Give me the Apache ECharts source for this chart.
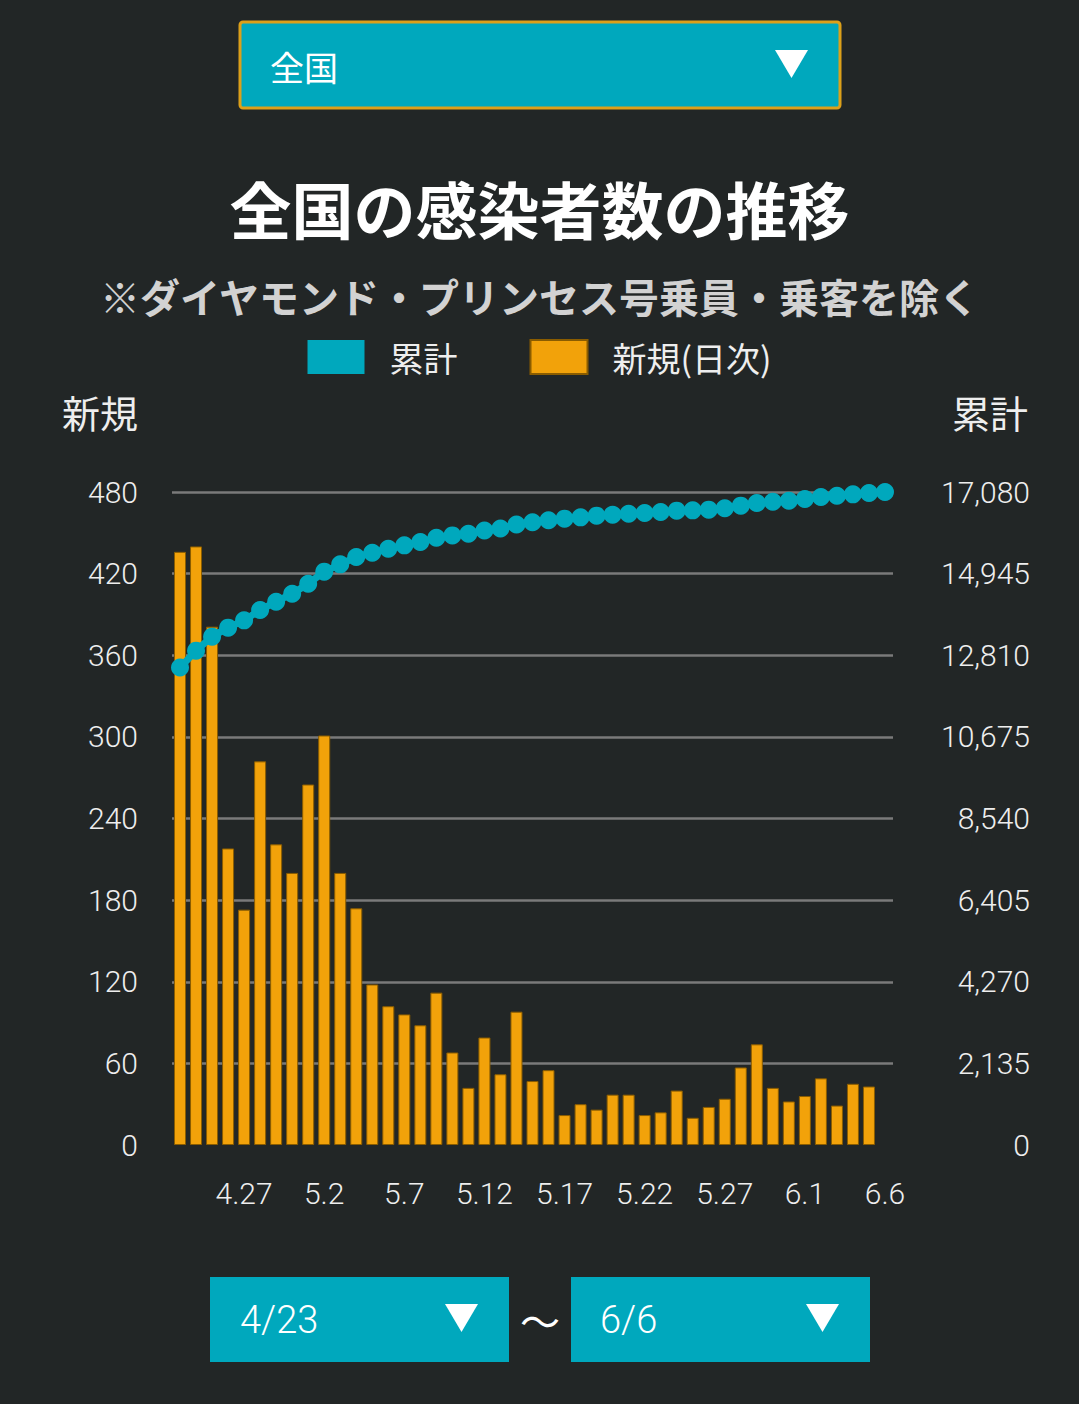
<!DOCTYPE html>
<html>
<head>
<meta charset="utf-8">
<script src="https://cdn.jsdelivr.net/npm/echarts@6/dist/echarts.min.js"></script>
<style>
  html, body { margin: 0; padding: 0; background: #222626; }
  #main { width: 1079px; height: 1404px; }
</style>
</head>
<body>
<div id="main"></div>
<script>
// 日付（4/23〜6/6）
const dates = [
    '4.23', '4.24', '4.25', '4.26', '4.27', '4.28', '4.29', '4.30',
    '5.1', '5.2', '5.3', '5.4', '5.5', '5.6', '5.7', '5.8', '5.9', '5.10',
    '5.11', '5.12', '5.13', '5.14', '5.15', '5.16', '5.17', '5.18', '5.19', '5.20',
    '5.21', '5.22', '5.23', '5.24', '5.25', '5.26', '5.27', '5.28', '5.29', '5.30', '5.31',
    '6.1', '6.2', '6.3', '6.4', '6.5', '6.6'
];
// 新規(日次)
const newCases = [
    436, 440, 381, 218, 173, 282, 221, 200,
    265, 301, 200, 174, 118, 102, 96, 88, 112, 68,
    42, 79, 52, 98, 47, 55, 22, 30, 26, 37,
    37, 22, 24, 40, 20, 28, 34, 57, 74, 42, 32,
    36, 49, 29, 45, 43, null
];
// 累計
const totalCases = [
    12488, 12930, 13297, 13532, 13723, 13993, 14210, 14419,
    14680, 14997, 15188, 15380, 15493, 15597, 15684, 15771, 15884, 15945,
    15988, 16075, 16127, 16232, 16290, 16339, 16383, 16417, 16461, 16487,
    16513, 16531, 16557, 16592, 16600, 16618, 16653, 16723, 16792, 16827, 16853,
    16897, 16949, 16984, 17019, 17054, 17080
];
const leftTicks = { max: 480, interval: 60 };
const rightTicks = { max: 17080, interval: 2135 };

const TEAL = '#00a8bd';
const ORANGE = '#f2a20a';
const CJK = '"Noto Sans CJK JP", "Noto Sans", sans-serif';
const NUM = 'Roboto, "Noto Sans", sans-serif';

let chart = echarts.init(document.getElementById('main'), null, { renderer: 'svg' });

let startLabel = dates[0].replace('.', '/');
let endLabel = dates[dates.length - 1].replace('.', '/');

let option = {
    backgroundColor: '#222626',
    animation: false,
    title: [{
        text: '全国の感染者数の推移',
        left: 'center',
        top: 172,
        textStyle: { color: '#ffffff', fontSize: 62, fontWeight: 'bold', fontFamily: CJK }
    }, {
        text: '※ダイヤモンド・プリンセス号乗員・乗客を除く',
        left: 'center',
        top: 271,
        textStyle: { color: '#d2d2d2', fontSize: 40, fontWeight: 'bold', fontFamily: CJK }
    }],
    legend: {
        data: ['累計', '新規(日次)'],
        top: 334,
        left: 'center',
        icon: 'rect',
        itemWidth: 57,
        itemHeight: 34,
        itemGap: 72,
        textStyle: { color: '#eeeeee', fontSize: 34, fontFamily: CJK, padding: [0, 0, 0, 20] }
    },
    grid: { left: 172, right: 186, top: 492, bottom: 259 },
    xAxis: {
        type: 'category',
        data: dates,
        axisLine: { show: false },
        axisTick: { show: false },
        axisLabel: {
            color: '#eeeeee',
            fontSize: 30,
            fontFamily: NUM,
            fontWeight: 300,
            margin: 33,
            interval: (i) => i % 5 === 4
        }
    },
    yAxis: [{
        type: 'value',
        name: '新規',
        nameLocation: 'end',
        nameGap: 62,
        nameTextStyle: { color: '#eeeeee', fontSize: 38, fontFamily: CJK, align: 'right', padding: [0, 34, 0, 0] },
        min: 0,
        max: leftTicks.max,
        interval: leftTicks.interval,
        axisLine: { show: false },
        axisTick: { show: false },
        axisLabel: { color: '#eeeeee', fontSize: 30, fontFamily: NUM, fontWeight: 300, margin: 34 },
        splitLine: {
            show: true,
            showMinLine: false,
            lineStyle: { color: '#7a7a7a', width: 2.5 }
        }
    }, {
        type: 'value',
        name: '累計',
        nameLocation: 'end',
        nameGap: 62,
        nameTextStyle: { color: '#eeeeee', fontSize: 38, fontFamily: CJK, align: 'left', padding: [0, 0, 0, 59] },
        min: 0,
        max: rightTicks.max,
        interval: rightTicks.interval,
        axisLine: { show: false },
        axisTick: { show: false },
        axisLabel: {
            color: '#eeeeee', fontSize: 30, fontFamily: NUM, fontWeight: 300,
            align: 'right', margin: 137,
            formatter: (v) => v.toLocaleString('en-US')
        },
        splitLine: { show: false }
    }],
    series: [{
        name: '新規(日次)',
        type: 'bar',
        yAxisIndex: 0,
        data: newCases,
        barWidth: 12,
        itemStyle: { color: ORANGE, borderColor: '#8a5c00', borderWidth: 1 }
    }, {
        name: '累計',
        type: 'line',
        yAxisIndex: 1,
        data: totalCases,
        z: 5,
        symbol: 'circle',
        symbolSize: 18,
        showAllSymbol: true,
        lineStyle: { color: TEAL, width: 7 },
        itemStyle: { color: TEAL }
    }],
    graphic: [
        // 地域選択
        {
            type: 'group',
            children: [
                { type: 'rect', shape: { x: 240, y: 22, width: 600, height: 86, r: 3 },
                  style: { fill: TEAL, stroke: '#dca01a', lineWidth: 3 } },
                { type: 'text', x: 270, y: 66,
                  style: { text: '全国', fill: '#ffffff', fontSize: 34, fontFamily: CJK, verticalAlign: 'middle' } },
                { type: 'polygon', shape: { points: [[775, 50], [808, 50], [791.5, 78]] },
                  style: { fill: '#ffffff' } }
            ]
        },
        // 期間選択
        {
            type: 'group',
            children: [
                { type: 'rect', shape: { x: 210, y: 1277, width: 299, height: 85 }, style: { fill: TEAL } },
                { type: 'text', x: 240, y: 1320,
                  style: { text: startLabel, fill: '#ffffff', fontSize: 38, fontFamily: NUM, fontWeight: 300, verticalAlign: 'middle' } },
                { type: 'polygon', shape: { points: [[445, 1304], [478, 1304], [461.5, 1332]] }, style: { fill: '#ffffff' } },
                { type: 'text', x: 540, y: 1320,
                  style: { text: '～', fill: '#ffffff', fontSize: 40, fontFamily: CJK, align: 'center', verticalAlign: 'middle' } },
                { type: 'rect', shape: { x: 571, y: 1277, width: 299, height: 85 }, style: { fill: TEAL } },
                { type: 'text', x: 600, y: 1320,
                  style: { text: endLabel, fill: '#ffffff', fontSize: 38, fontFamily: NUM, fontWeight: 300, verticalAlign: 'middle' } },
                { type: 'polygon', shape: { points: [[806, 1304], [839, 1304], [822.5, 1332]] }, style: { fill: '#ffffff' } }
            ]
        }
    ]
};

chart.setOption(option);
</script>
</body>
</html>
